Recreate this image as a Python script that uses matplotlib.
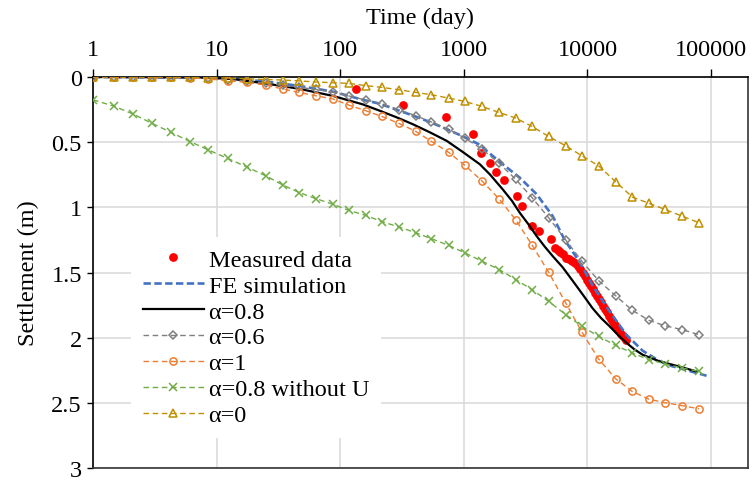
import matplotlib
matplotlib.use("Agg")
import matplotlib.pyplot as plt
from matplotlib.ticker import FixedLocator, FixedFormatter, NullLocator

plt.rcParams['font.family'] = ['Liberation Serif', 'DejaVu Serif']

FS = 17.5

# ---- data -------------------------------------------------------------
# time steps (days) shared by the analytical curves with markers
t_model = [1, 1.49, 2.12, 3.01, 4.28, 6.08, 8.55, 12.3, 17.5, 25.1, 34.2, 46.6,
           63.5, 87.7, 117, 161, 218, 299, 408, 547, 755, 1016, 1403, 1928,
           2630, 3556, 4853, 6668, 9036, 12330, 16900, 23070, 31410, 42070,
           58070, 79800]

s_alpha06 = [0, 0, 0, 0, 0, 0.003, 0.01, 0.02, 0.033, 0.048, 0.065, 0.08,
             0.095, 0.115, 0.145, 0.177, 0.205, 0.252, 0.297, 0.345, 0.402,
             0.468, 0.553, 0.662, 0.785, 0.925, 1.079, 1.25, 1.415, 1.563,
             1.678, 1.79, 1.867, 1.908, 1.938, 1.977]

s_alpha1 = [0, 0, 0, 0, 0.002, 0.006, 0.015, 0.028, 0.041, 0.062, 0.092,
            0.118, 0.144, 0.169, 0.215, 0.259, 0.303, 0.356, 0.417, 0.494,
            0.579, 0.676, 0.798, 0.935, 1.096, 1.288, 1.498, 1.733, 1.959,
            2.164, 2.315, 2.413, 2.472, 2.498, 2.521, 2.546]

s_alpha08_noU = [0.175, 0.225, 0.285, 0.356, 0.425, 0.495, 0.559, 0.625,
                 0.690, 0.759, 0.828, 0.887, 0.933, 0.977, 1.023, 1.062,
                 1.11, 1.151, 1.195, 1.241, 1.292, 1.349, 1.413, 1.477,
                 1.554, 1.631, 1.721, 1.823, 1.913, 1.99, 2.059, 2.118,
                 2.169, 2.2, 2.233, 2.259]

s_alpha0 = [0, 0, 0, 0, 0, 0.002, 0.004, 0.008, 0.014, 0.019, 0.023, 0.03,
            0.038, 0.044, 0.049, 0.066, 0.08, 0.098, 0.118, 0.136, 0.162,
            0.187, 0.226, 0.272, 0.315, 0.379, 0.456, 0.528, 0.605, 0.682,
            0.803, 0.921, 0.969, 1.015, 1.067, 1.118]

# smooth curves: fractional model with alpha = 0.8 and FE simulation
t_alpha08 = [1, 7.33, 13.55, 25.0, 46.3, 87.2, 152.3, 209, 287, 386, 530,
             727, 980, 1345, 1620, 2063, 2450, 2831, 3330, 3885, 4500, 5232,
             6302, 7150, 8177, 9500, 11015, 12900, 15120, 17700, 20750,
             24000, 27940, 38340, 48850, 76350]
s_alpha08 = [0, 0.003, 0.015, 0.05, 0.09, 0.145, 0.21, 0.259, 0.31, 0.362,
             0.424, 0.49, 0.575, 0.669, 0.746, 0.862, 0.95, 1.041, 1.13,
             1.221, 1.30, 1.374, 1.46, 1.53, 1.605, 1.69, 1.775, 1.85, 1.913,
             1.98, 2.041, 2.09, 2.131, 2.182, 2.208, 2.259]

t_fe = [1, 7.33, 13.55, 25.0, 46.3, 87.2, 152.3, 209, 287, 386, 530, 727,
        980, 1345, 1531, 2063, 2831, 3885, 5232, 6542, 8649, 11015, 15120,
        20750, 27940, 38340, 48850, 91960]
s_fe = [0, 0.003, 0.012, 0.035, 0.068, 0.112, 0.175, 0.205, 0.252, 0.295,
        0.345, 0.40, 0.455, 0.52, 0.567, 0.669, 0.772, 0.90, 1.067, 1.25,
        1.42, 1.60, 1.80, 1.98, 2.10, 2.18, 2.22, 2.292]

# field measurements
t_meas = [1, 133.7, 322.5, 723, 1187, 1388, 1620, 1811, 2102, 2692, 2977,
          3586, 4055, 5108, 5502, 5743, 5962, 6302, 6664, 7047, 7452, 7880,
          8333, 8730, 9146, 9494, 9852, 10225, 10614, 11015, 11434, 11869,
          12316, 12786, 13272, 13775, 14297, 14840, 15404, 15987, 16596,
          17226, 17873, 18553, 19258, 19984, 20550]
s_meas = [0, 0.092, 0.218, 0.31, 0.438, 0.585, 0.662, 0.728, 0.79, 0.913,
          0.99, 1.14, 1.185, 1.241, 1.31, 1.33, 1.345, 1.36, 1.385, 1.40,
          1.415, 1.43, 1.45, 1.47, 1.50, 1.53, 1.555, 1.58, 1.60, 1.625,
          1.655, 1.68, 1.705, 1.73, 1.755, 1.78, 1.805, 1.83, 1.855, 1.88,
          1.905, 1.93, 1.95, 1.97, 1.99, 2.005, 2.02]

x_ticks = [1, 10, 100, 1000, 10000, 100000]
x_tick_labels = ["1", "10", "100", "1000", "10000", "100000"]
y_ticks = [0, 0.5, 1, 1.5, 2, 2.5, 3]
y_tick_labels = ["0", "0.5", "1", "1.5", "2", "2.5", "3"]

# ---- figure -----------------------------------------------------------
W, H = 753, 485
fig = plt.figure(figsize=(W / 100, H / 100), dpi=100)
ax = fig.add_axes([93 / W, 1 - 469 / H, (748 - 93) / W, (469 - 78) / H])

ax.set_xscale('log')
ax.set_xlim(1, 1.99e5)
ax.set_ylim(3, 0)

ax.grid(True, which='major', color='#D9D9D9', lw=1.1, zorder=0)
ax.set_axisbelow(True)

ms_line = dict(lw=1.0, dashes=(4, 2.6), mew=1.1, mfc='none')

ax.plot(t_meas, s_meas, 'o', color='#FF0000', ms=6.3, mec='none',
        label='Measured data', zorder=3)
ax.plot(t_fe, s_fe, color='#4472C4', lw=1.9, dashes=(2.8, 1.3),
        label='FE simulation', zorder=3)
ax.plot(t_alpha08, s_alpha08, color='black', lw=1.6, solid_joinstyle='round',
        label='α=0.8', zorder=3)
ax.plot(t_model, s_alpha06, color='#7F7F7F', marker='D', ms=4.3,
        label='α=0.6', zorder=3, **ms_line)
ax.plot(t_model, s_alpha1, color='#ED7D31', marker='o', ms=5.2,
        label='α=1', zorder=3, **ms_line)
ax.plot(t_model, s_alpha08_noU, color='#70AD47', marker='x', ms=5.2,
        label='α=0.8 without U', zorder=3, **ms_line)
ax.plot(t_model, s_alpha0, color='#BF9000', marker='^', ms=5.6,
        label='α=0', zorder=3, **ms_line)

# axes: time on top, settlement increasing downward
ax.xaxis.tick_top()
ax.xaxis.set_label_position('top')
ax.xaxis.set_major_locator(FixedLocator(x_ticks))
ax.xaxis.set_major_formatter(FixedFormatter(x_tick_labels))
ax.xaxis.set_minor_locator(NullLocator())
ax.yaxis.set_major_locator(FixedLocator(y_ticks))
ax.yaxis.set_major_formatter(FixedFormatter(y_tick_labels))

ax.tick_params(axis='x', which='major', direction='out', length=5.5,
               width=1.0, pad=7, labelsize=FS, top=True, bottom=False)
ax.tick_params(axis='y', which='major', direction='out', length=4.5,
               width=1.0, pad=3.5, labelsize=FS)

for side in ['top', 'left', 'right', 'bottom']:
    ax.spines[side].set_linewidth(1.2)
    ax.spines[side].set_color('black')
ax.spines['right'].set_color('#333333')
ax.spines['bottom'].set_color('#333333')

ax.set_xlabel('Time (day)', fontsize=FS, labelpad=11)
ax.set_ylabel('Settlement (m)', fontsize=FS, labelpad=9)

leg = ax.legend(loc='upper left', bbox_to_anchor=(0.0577, 0.592),
                fontsize=FS, frameon=True, fancybox=False, framealpha=1,
                facecolor='white', edgecolor='none', borderpad=0.5,
                borderaxespad=0, labelspacing=0.16, handlelength=2.5,
                handletextpad=0.2, numpoints=1)
leg.set_zorder(5)

fig.savefig('out.png', dpi=100)
